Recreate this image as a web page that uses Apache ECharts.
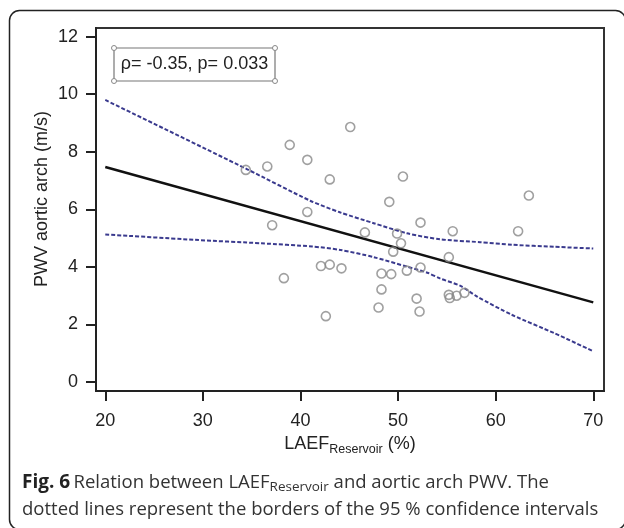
<!DOCTYPE html>
<html>
<head>
<meta charset="utf-8">
<script src="https://cdn.jsdelivr.net/npm/echarts@6/dist/echarts.min.js"></script>
<style>
html,body{margin:0;padding:0;background:#fff;}
#c{width:624px;height:528px;}
</style>
</head>
<body>
<div id="c"></div>
<script>
// ---- data ----
var xTicks = [20, 30, 40, 50, 60, 70];
var yTicks = [0, 2, 4, 6, 8, 10, 12];

var pointsLAEF = [34.4, 36.6, 38.9, 40.7, 37.1, 40.7, 45.1, 43.0, 50.5, 49.1, 63.4, 52.3,
  46.6, 49.9, 55.6, 62.3, 50.3, 49.5, 55.2, 38.3, 42.1, 43.0, 44.2, 48.3, 49.3, 50.9,
  52.3, 48.3, 48.0, 42.6, 51.9, 52.2, 55.2, 55.3, 56.0, 56.8];
var pointsPWV = [7.37, 7.49, 8.24, 7.72, 5.45, 5.91, 8.86, 7.04, 7.14, 6.26, 6.48, 5.54,
  5.20, 5.16, 5.24, 5.24, 4.82, 4.53, 4.34, 3.61, 4.03, 4.08, 3.95, 3.77, 3.75, 3.87,
  3.98, 3.22, 2.59, 2.29, 2.90, 2.45, 3.03, 2.92, 3.00, 3.10];

var fitX = [20, 70];
var fitY = [7.47, 2.77];

var upperX = [20, 34.5, 41, 44.1, 47.5, 50.9, 54.3, 58.4, 61.7, 66, 70];
var upperY = [9.80, 7.40, 6.30, 5.89, 5.52, 5.17, 4.96, 4.86, 4.77, 4.70, 4.64];

var lowerX = [20, 29.2, 36, 41.2, 44.1, 47.5, 50.9, 53, 54.3, 56.4, 58.1, 61.7, 66, 70];
var lowerY = [5.13, 4.94, 4.82, 4.71, 4.59, 4.34, 4.01, 3.80, 3.60, 3.34, 2.97, 2.33, 1.70, 1.07];

var annotationText = 'ρ= -0.35, p= 0.033';
var yName = 'PWV aortic arch (m/s)';

function zip(a, b) { return a.map(function (v, i) { return [v, b[i]]; }); }

var chart = echarts.init(document.getElementById('c'), null, {renderer: 'canvas'});
var axisFont = 'Liberation Sans, Arial, sans-serif';
var captionFont = '"Open Sans", "Noto Sans", sans-serif';

chart.setOption({
  animation: false,
  backgroundColor: '#fff',
  grid: {left: 96, top: 28, right: 20, bottom: 137, show: true, borderColor: '#333', borderWidth: 2},
  xAxis: {
    type: 'value', min: 19.05, max: 71.1,
    axisLine: {show: true, onZero: false, lineStyle: {color: '#222', width: 2}},
    axisTick: {show: true, customValues: xTicks, length: 10, lineStyle: {color: '#222', width: 2}},
    axisLabel: {customValues: xTicks, margin: 21, fontSize: 18, color: '#222', fontFamily: axisFont},
    splitLine: {show: false},
    name: '{a|LAEF}{b|Reservoir}{a| (%)}',
    nameLocation: 'middle', nameGap: 39,
    nameTextStyle: {
      rich: {
        a: {fontSize: 18, color: '#222', fontFamily: axisFont},
        b: {fontSize: 12.5, color: '#222', fontFamily: axisFont, padding: [12, 0, 0, 0]}
      }
    }
  },
  yAxis: {
    type: 'value', min: -0.31, max: 12.3,
    axisLine: {show: true, onZero: false, lineStyle: {color: '#222', width: 2}},
    axisTick: {show: true, customValues: yTicks, length: 10, lineStyle: {color: '#222', width: 2}},
    axisLabel: {customValues: yTicks, margin: 18, fontSize: 18, color: '#222', fontFamily: axisFont},
    splitLine: {show: false}
  },
  series: [
    {
      type: 'line', data: zip(upperX, upperY), smooth: 0.25, symbol: 'none', z: 3,
      lineStyle: {color: '#3a3a8e', width: 2, type: [4, 2]}
    },
    {
      type: 'line', data: zip(lowerX, lowerY), smooth: 0.25, symbol: 'none', z: 3,
      lineStyle: {color: '#3a3a8e', width: 2, type: [4, 2]}
    },
    {
      type: 'line', data: zip(fitX, fitY), symbol: 'none', z: 3,
      lineStyle: {color: '#111', width: 2.5}
    },
    {
      type: 'scatter', data: zip(pointsLAEF, pointsPWV), symbol: 'circle', symbolSize: 9, z: 4,
      itemStyle: {color: 'rgba(255,255,255,0)', borderColor: '#888', borderWidth: 1.6}
    }
  ],
  graphic: [
    {
      type: 'rect', left: 7, top: 8, z: -10, silent: true,
      shape: {width: 616, height: 519, r: 10},
      style: {fill: 'none', stroke: '#222', lineWidth: 1.5}
    },
    {
      type: 'text', x: 42, y: 199, rotation: Math.PI / 2,
      style: {text: yName, font: '18px ' + axisFont, fill: '#222', align: 'center', verticalAlign: 'middle'}
    },
    {
      type: 'group', left: 111, top: 45,
      children: [
        {type: 'rect', shape: {x: 1, y: 1, width: 161, height: 33}, style: {fill: '#fff', stroke: '#777', lineWidth: 1.2}},
        {type: 'circle', shape: {cx: 1, cy: 1, r: 2.5}, style: {fill: '#fff', stroke: '#888', lineWidth: 1}},
        {type: 'circle', shape: {cx: 162, cy: 1, r: 2.5}, style: {fill: '#fff', stroke: '#888', lineWidth: 1}},
        {type: 'circle', shape: {cx: 1, cy: 34, r: 2.5}, style: {fill: '#fff', stroke: '#888', lineWidth: 1}},
        {type: 'circle', shape: {cx: 162, cy: 34, r: 2.5}, style: {fill: '#fff', stroke: '#888', lineWidth: 1}},
        {type: 'text', x: 81.5, y: 17.5, style: {text: annotationText, font: '18px ' + axisFont, fill: '#222', align: 'center', verticalAlign: 'middle'}}
      ]
    },
    {
      type: 'text', left: 22, top: 473,
      style: {
        text: '{b|Fig. 6} {n|Relation between LAEF}{s|Reservoir}{n| and aortic arch PWV. The}',
        rich: {
          b: {font: 'bold 19px ' + captionFont, fill: '#222'},
          n: {font: '18.5px ' + captionFont, fill: '#333'},
          s: {font: '13.5px ' + captionFont, fill: '#333', padding: [9, 0, 0, 0]}
        }
      }
    },
    {
      type: 'text', left: 22, top: 500,
      style: {text: 'dotted lines represent the borders of the 95 % confidence intervals', font: '18.5px ' + captionFont, fill: '#333'}
    }
  ]
});
</script>
</body>
</html>
